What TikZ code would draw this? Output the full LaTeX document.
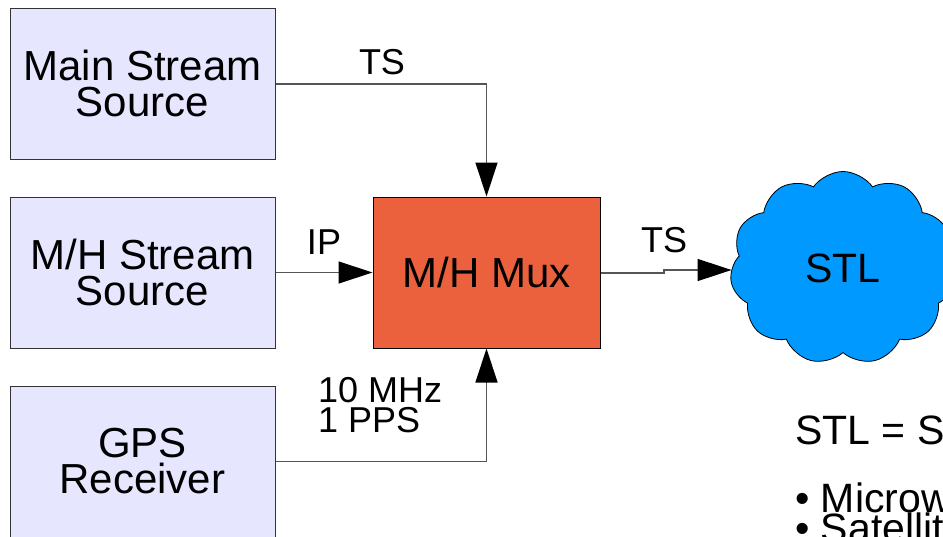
\documentclass[tikz,border=0pt]{standalone}
\usepackage{fontspec}
\setmainfont{Liberation Sans}
\usetikzlibrary{arrows.meta,shapes.symbols}
\definecolor{srcfill}{RGB}{230,230,255}
\definecolor{muxfill}{RGB}{235,97,61}
\definecolor{cloudfill}{RGB}{0,153,255}
\definecolor{linegray}{RGB}{85,85,85}
\tikzset{
  srcbox/.style={draw=black!80, line width=1pt, fill=srcfill, minimum width=265pt, minimum height=151pt, inner sep=0pt, align=center, font=\fontsize{42}{36}\selectfont},
  muxbox/.style={draw=black, line width=1pt, fill=muxfill, minimum width=227pt, minimum height=151pt, inner sep=0pt, font=\fontsize{42}{36}\selectfont},
  conn/.style={draw=linegray, line width=1.3pt, -{Triangle[length=34pt,width=22pt,fill=black,color=black]}},
  lbl/.style={font=\fontsize{36}{30}\selectfont, inner sep=0pt, align=left},
  bigtxt/.style={font=\fontsize{41}{34}\selectfont, inner sep=0pt, anchor=west}
}
\begin{document}
\begin{tikzpicture}[x=1pt,y=-1pt]
\useasboundingbox (0,0) rectangle (943,536);
\clip (0,0) rectangle (943,536);
\node[srcbox] (main) at (142.5,83.5) {Main Stream\\Source};
\node[srcbox] (mh) at (142.5,272.5) {M/H Stream\\Source};
\node[srcbox] (gps) at (142.5,461.5) {GPS\\Receiver};
\node[muxbox] (mux) at (486.5,272.5) {M/H Mux};
\node[cloud, cloud puffs=11, cloud puff arc=110, aspect=1.2, draw=black, line width=0.8pt, fill=cloudfill, minimum width=226pt, minimum height=193pt, inner sep=0pt, font=\fontsize{41}{34}\selectfont] (stl) at (843,268) {STL};
\coordinate (k1) at (664,273);
\coordinate (k2) at (664,270);
\draw[conn] (main.east |- 0,84) -| (mux.north);
\draw[conn] (mh.east) -- (mux.west);
\draw[conn] (gps.east) -| (mux.south);
\draw[conn] (mux.east |- k1) -- (k1) -- (k2) -- (stl.west |- k2);
\node[lbl] (lts1) at (382,62) {TS};
\node[lbl] (lip) at (324,242) {IP};
\node[lbl] (lts2) at (664,240) {TS};
\node[lbl, anchor=west] (lclk) at (318,405) {10 MHz\\1 PPS};
\node[bigtxt] (def) at (795,430) {STL = Studio to Transmitter Link};
\node[bigtxt, align=left, anchor=north west] (list) at (795,483) {\textbullet{} Microwave\\[-4pt]\textbullet{} Satellite};
\end{tikzpicture}
\end{document}
